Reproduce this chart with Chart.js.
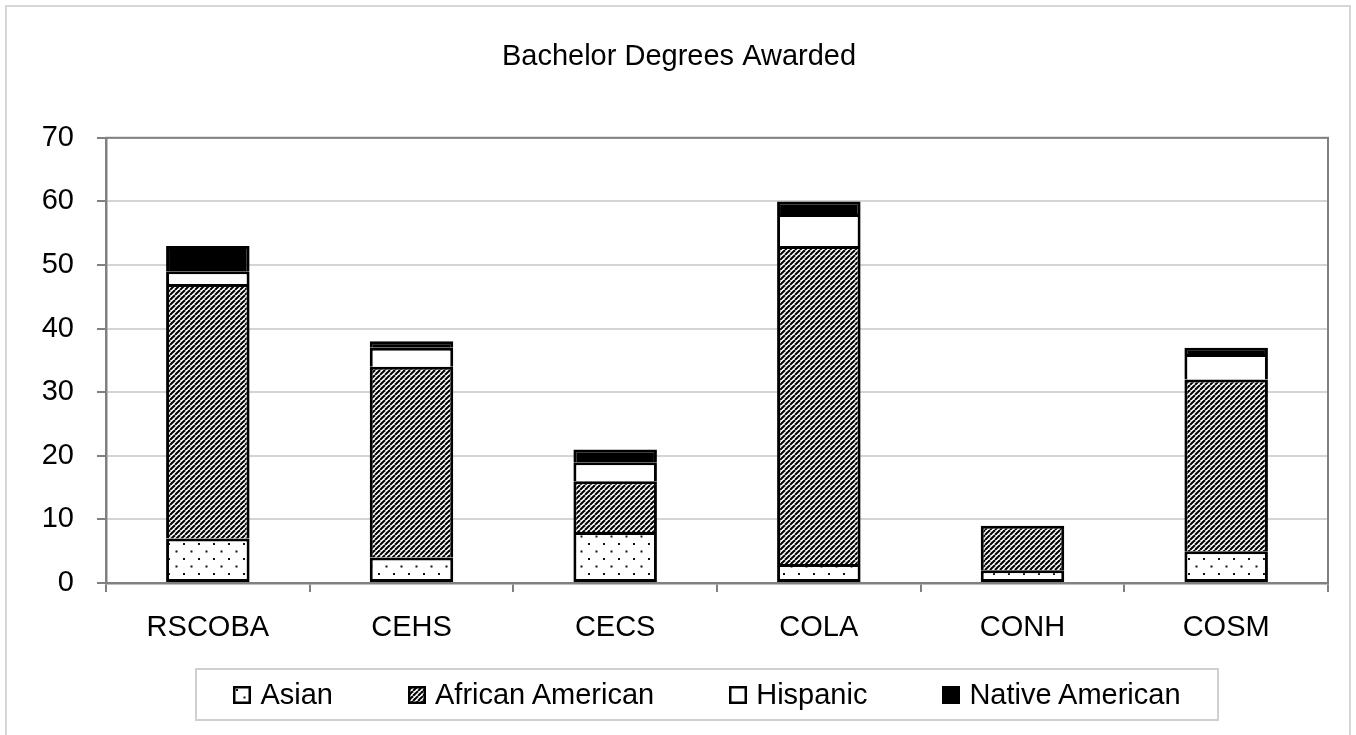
<!DOCTYPE html>
<html>
<head>
<meta charset="utf-8">
<script src="https://cdn.jsdelivr.net/npm/chart.js@4.4.1/dist/chart.umd.min.js"></script>
<style>
    body { margin: 0; background: #fff; font-family: "Liberation Sans", Arial, sans-serif; }
    .page { position: relative; width: 1356px; height: 735px; overflow: hidden; }
    .frame { position: absolute; left: 5px; top: 5px; width: 1346px; height: 740px; border: 2px solid #d6d6d6; box-sizing: border-box; }
    #chart { position: absolute; left: 0; top: 0; }
    .legend { position: absolute; left: 195px; top: 668px; width: 1024px; height: 53px; border: 2px solid #d0d0d0; box-sizing: border-box;
              display: flex; justify-content: center; align-items: center; gap: 75px; font-size: 29px; color: #000; }
    .lg-item { display: flex; align-items: center; }
    .lg-item canvas { margin-right: 9px; }
</style>
</head>
<body>
<div class="page">
    <div class="frame"></div>
    <canvas id="chart" width="1356" height="735"></canvas>
    <div class="legend" id="legend"></div>
</div>
<script>
const categories = ['RSCOBA', 'CEHS', 'CECS', 'COLA', 'CONH', 'COSM'];
const seriesNames = ['Asian', 'African American', 'Hispanic', 'Native American'];
const asian = [7, 4, 8, 3, 2, 5];
const africanAmerican = [40, 30, 8, 50, 7, 27];
const hispanic = [2, 3, 3, 5, 0, 4];
const nativeAmerican = [4, 1, 2, 2, 0, 1];
const yTicks = [0, 10, 20, 30, 40, 50, 60, 70];
const chartTitle = 'Bachelor Degrees Awarded';

const FONT = '"Liberation Sans", Arial, sans-serif';

function makeTile(w, h, draw) {
    const c = document.createElement('canvas');
    c.width = w; c.height = h;
    const g = c.getContext('2d');
    g.fillStyle = '#fff';
    g.fillRect(0, 0, w, h);
    draw(g, w, h);
    return c;
}

const dotTile = makeTile(15, 15, (g) => {
    g.fillStyle = '#111';
    g.fillRect(3, 3, 2, 2);
    g.fillRect(10.5, 10.5, 2, 2);
});
const hatchTile = makeTile(5, 5, (g, s) => {
    g.strokeStyle = '#000';
    g.lineWidth = 2;
    for (let k = -1; k <= 1; k++) {
        g.beginPath();
        g.moveTo(k * s, s);
        g.lineTo(k * s + s, 0);
        g.stroke();
    }
});

const ctx = document.getElementById('chart').getContext('2d');
const fills = [
    ctx.createPattern(dotTile, 'repeat'),
    ctx.createPattern(hatchTile, 'repeat'),
    '#ffffff',
    '#000000'
];
const values = [asian, africanAmerican, hispanic, nativeAmerican];

const plotFrame = {
    id: 'plotFrame',
    afterDraw(chart) {
        const a = chart.chartArea;
        const c = chart.ctx;
        c.save();
        c.strokeStyle = '#808080';
        c.lineWidth = 2;
        c.strokeRect(a.left, a.top, a.right - a.left, a.bottom - a.top);
        c.restore();
    }
};

const chart = new Chart(ctx, {
    type: 'bar',
    data: {
        labels: categories,
        datasets: seriesNames.map((name, i) => ({
            label: name,
            data: values[i],
            backgroundColor: fills[i],
            borderColor: '#000',
            borderWidth: 3,
            borderSkipped: i === 0 ? false : 'start',
            barPercentage: 0.41,
            categoryPercentage: 1
        }))
    },
    options: {
        responsive: false,
        animation: false,
        layout: { padding: { left: 30, right: 28, top: 0, bottom: 92 } },
        plugins: {
            legend: { display: false },
            tooltip: { enabled: false },
            title: {
                display: true,
                text: chartTitle,
                color: '#000',
                font: { family: FONT, size: 29, weight: 'normal', lineHeight: 1.2 },
                padding: { top: 40, bottom: 63 }
            }
        },
        scales: {
            x: {
                stacked: true,
                offset: true,
                grid: { offset: true, drawOnChartArea: false, drawTicks: true, tickLength: 9, color: '#808080', lineWidth: 2 },
                border: { color: '#808080', width: 2.5 },
                ticks: { color: '#000', padding: 19, font: { family: FONT, size: 29 } },
                afterFit: (s) => { s.height = 60; }
            },
            y: {
                stacked: true,
                min: yTicks[0],
                max: yTicks[yTicks.length - 1],
                afterBuildTicks: (s) => { s.ticks = yTicks.map(v => ({ value: v })); },
                grid: { color: '#d4d4d4', lineWidth: 2, tickColor: '#808080', tickLength: 9 },
                border: { color: '#808080', width: 2.5 },
                ticks: { color: '#000', padding: 23, font: { family: FONT, size: 29 } },
                afterFit: (s) => { s.width = 76; }
            }
        }
    },
    plugins: [plotFrame]
});

// legend built from the chart's own datasets
const legendEl = document.getElementById('legend');
chart.data.datasets.forEach((ds) => {
    const item = document.createElement('div');
    item.className = 'lg-item';
    const sw = document.createElement('canvas');
    sw.width = 18; sw.height = 18;
    const g = sw.getContext('2d');
    g.fillStyle = ds.backgroundColor;
    g.fillRect(0, 0, 18, 18);
    g.strokeStyle = '#000';
    g.lineWidth = 2.5;
    g.strokeRect(1.25, 1.25, 15.5, 15.5);
    const label = document.createElement('span');
    label.textContent = ds.label;
    item.appendChild(sw);
    item.appendChild(label);
    legendEl.appendChild(item);
});
</script>
</body>
</html>
